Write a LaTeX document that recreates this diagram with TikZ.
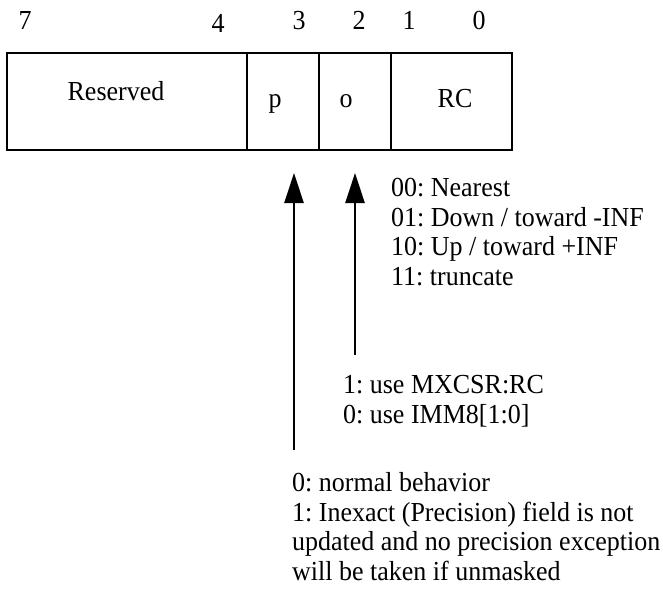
\documentclass[tikz,border=0pt]{standalone}
\usepackage{fontspec}
\setmainfont[FakeStretch=0.945]{Liberation Serif}
\usetikzlibrary{arrows.meta}
\begin{document}
\frenchspacing
\begin{tikzpicture}[x=1pt,y=-1pt,
  lbl/.style={inner sep=0pt,anchor=base,font=\fontsize{27.5}{29.5}\selectfont},
  blk/.style={inner sep=0pt,anchor=base west,align=left,font=\fontsize{27.5}{29.5}\selectfont\frenchspacing},
  cell/.style={draw,line width=2.6pt},
  arr/.style={line width=2.8pt,-{Triangle[length=30pt,width=19pt]}}]
\useasboundingbox (0,0) rectangle (663,599);
% register box
\draw[cell] (7,53) rectangle (512,150);
\draw[line width=2.6pt] (247,53) -- (247,150) (319,53) -- (319,150) (391,53) -- (391,150);
% bit numbers
\node[lbl] (b7) at (25,30) {7};
\node[lbl] (b4) at (218,33) {4};
\node[lbl] (b3) at (299,30) {3};
\node[lbl] (b2) at (359,30) {2};
\node[lbl] (b1) at (409,30) {1};
\node[lbl] (b0) at (479,30) {0};
% field names
\node[lbl] (res) at (116,101) {Reserved};
\node[lbl] (p) at (275,107) {p};
\node[lbl] (o) at (346,107) {o};
\node[lbl] (rc) at (455,107) {RC};
% arrows
\coordinate (pbot) at (294,450);
\coordinate (obot) at (355,355);
\coordinate (ptip) at (294,173);
\coordinate (otip) at (355,173);
\draw[arr] (pbot) -- (ptip);
\draw[arr] (obot) -- (otip);
% descriptions (anchor = baseline of last line)
\node[blk] (rcdesc) at (391,285) {00: Nearest\\01: Down / toward -INF\\10: Up / toward +INF\\11: truncate};
\node[blk] (odesc) at (343,423) {1: use MXCSR:RC\\0: use IMM8[1:0]};
\node[blk] (pdesc) at (292,580) {0: normal behavior\\1: Inexact (Precision) field is not\\updated and no precision exception\\will be taken if unmasked};
\end{tikzpicture}
\end{document}
